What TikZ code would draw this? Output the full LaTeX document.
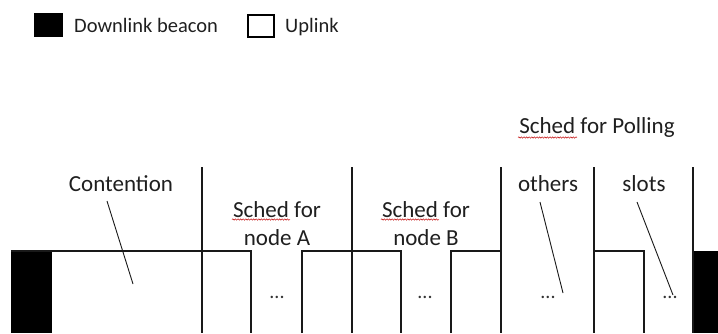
\documentclass[tikz,border=0pt]{standalone}
\usepackage{fontspec}
\setmainfont{Carlito}
\usetikzlibrary{decorations.pathmorphing}
\begin{document}
\begin{tikzpicture}[x=1pt,y=-1pt,
  ln/.style={line width=1.1pt, black!90},
  lbl/.style={font=\fontsize{23}{28}\selectfont, inner sep=0pt, text=black!88},
  leg/.style={font=\fontsize{20.5}{24}\selectfont, inner sep=0pt, anchor=base west, text=black!88},
  dots/.style={font=\fontsize{20}{22}\selectfont, inner sep=0pt, text=black!80},
  spell/.style={draw=red!75!black, line width=0.45pt, decorate, decoration={snake, amplitude=0.7pt, segment length=2.6pt}},
  beacon/.style={fill=black, draw=none}]
\useasboundingbox (0,0) rectangle (718,333);
% legend
\node[beacon, minimum width=29pt, minimum height=24pt, anchor=north west] (legbeacon) at (34,13) {};
\node[leg] (legdl) at (74,32) {Downlink beacon};
\node[draw=black, line width=2pt, minimum width=26pt, minimum height=22pt, anchor=north west, inner sep=0pt] (legul) at (247,14) {};
\node[leg] (legup) at (285,32) {Uplink};
% beacons
\fill[black] (11,251) rectangle (52,333);
\fill[black] (693,251) rectangle (718,333);
% uplink frame
\draw[ln] (11,251) -- (251,251) -- (251,333);
\draw[ln] (302,333) -- (302,251) -- (401,251) -- (401,333);
\draw[ln] (451,333) -- (451,251) -- (501,251);
\draw[ln] (594,251) -- (644,251) -- (644,333);
\foreach \x in {202,352,501,594,693} \draw[ln] (\x,167) -- (\x,333);
% labels
\node[lbl, anchor=base] (cont) at (121,191) {Contention};
\node[lbl, align=center, anchor=base] (schedA) at (277,245) {Sched for\\node A};
\node[lbl, align=center, anchor=base] (schedB) at (426,245) {Sched for\\node B};
\node[lbl, anchor=base] (poll) at (597,133) {Sched for Polling};
\node[lbl, anchor=base] (others) at (548,191) {others};
\node[lbl, anchor=base] (slots) at (644,191) {slots};
% dots
\node[dots] (d1) at (277,297) {...};
\node[dots] (d2) at (425,297) {...};
\node[dots] (d3) at (548,297) {...};
\node[dots] (d4) at (670,297) {...};
% pointers
\coordinate (contend) at (133,284);
\draw[ln, line width=0.9pt] (107,201) -- (contend);
\draw[ln, line width=0.9pt] (540,202) -- (563,293);
\draw[ln, line width=0.9pt] (637,202) -- (673,295);
% spell-check underlines
\draw[spell] (232,219.5) -- (290,219.5);
\draw[spell] (381,219.5) -- (439,219.5);
\draw[spell] (518,137.5) -- (577,137.5);
\end{tikzpicture}
\end{document}
